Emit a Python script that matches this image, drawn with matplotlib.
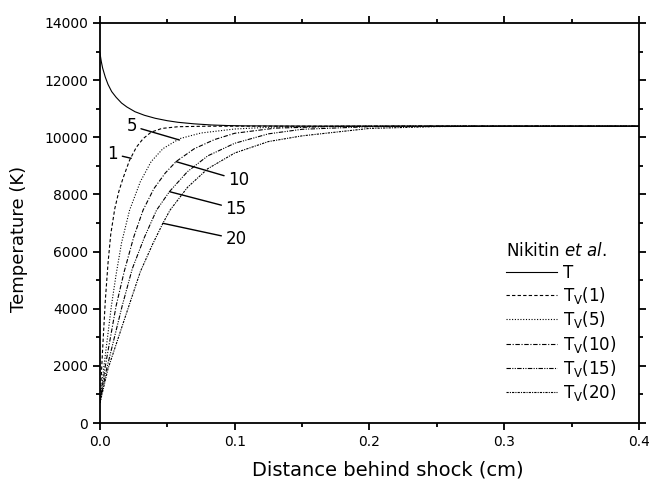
import matplotlib
matplotlib.use("Agg")
import matplotlib.pyplot as plt
from matplotlib.ticker import MultipleLocator

plt.rcParams['font.family'] = ['DejaVu Sans']
plt.rcParams['mathtext.fontset'] = 'custom'
plt.rcParams['mathtext.rm'] = 'DejaVu Sans'
plt.rcParams['mathtext.it'] = 'DejaVu Sans:italic'

# Data
x_T = [0, 0.001, 0.002, 0.004, 0.006, 0.0087, 0.012, 0.016, 0.02, 0.026, 0.033, 0.041,
       0.05, 0.058, 0.07, 0.083, 0.095, 0.107, 0.15, 0.4]
y_T = [12950, 12650, 12420, 12100, 11850, 11600, 11400, 11200, 11060, 10895, 10770, 10665,
       10580, 10524, 10470, 10430, 10410, 10400, 10392, 10390]

x_tv1 = [0, 0.002, 0.004, 0.006, 0.008, 0.011, 0.014, 0.017, 0.022, 0.027, 0.032, 0.038, 0.046, 0.058, 0.08, 0.4]
y_tv1 = [700, 2600, 4300, 5600, 6600, 7500, 8100, 8550, 9200, 9650, 9950, 10180, 10310, 10370, 10388, 10390]

x_tv5 = [0, 0.003, 0.0085, 0.012, 0.016, 0.022, 0.030, 0.038, 0.0467, 0.059, 0.075, 0.1, 0.13, 0.18, 0.4]
y_tv5 = [700, 2000, 4100, 5200, 6300, 7450, 8450, 9150, 9600, 9950, 10150, 10290, 10360, 10385, 10390]

x_tv10 = [0, 0.004, 0.012, 0.018, 0.025, 0.032, 0.040, 0.0485, 0.0565, 0.07, 0.085, 0.1, 0.13, 0.17, 0.22, 0.4]
y_tv10 = [700, 2000, 4100, 5300, 6500, 7450, 8200, 8750, 9150, 9600, 9920, 10140, 10320, 10375, 10390, 10390]

x_tv15 = [0, 0.005, 0.0165, 0.024, 0.033, 0.042, 0.0516, 0.065, 0.08, 0.1, 0.125, 0.15, 0.2, 0.25, 0.4]
y_tv15 = [700, 1900, 4100, 5400, 6500, 7450, 8100, 8800, 9350, 9790, 10120, 10280, 10370, 10388, 10390]

x_tv20 = [0, 0.006, 0.0215, 0.030, 0.039, 0.0467, 0.052, 0.065, 0.08, 0.1, 0.125, 0.15, 0.2, 0.25, 0.3, 0.4]
y_tv20 = [700, 1900, 4100, 5300, 6250, 6990, 7450, 8250, 8900, 9450, 9850, 10050, 10310, 10375, 10388, 10390]

xtick_labels = ['0.0', '0.1', '0.2', '0.3', '0.4']

fig = plt.figure(figsize=(6.49, 4.83), dpi=100)
ax = fig.add_axes([0.154, 0.1242, 0.8306, 0.8282])

lw = 0.8
ax.plot(x_T, y_T, color='black', lw=lw, linestyle='-', label='T')
ax.plot(x_tv1, y_tv1, color='black', lw=lw, linestyle=(0, (3, 2)), label=r'T$_\mathregular{V}$(1)')
ax.plot(x_tv5, y_tv5, color='black', lw=lw, linestyle=(0, (1, 1.5)), label=r'T$_\mathregular{V}$(5)')
ax.plot(x_tv10, y_tv10, color='black', lw=lw, linestyle=(0, (4, 1.5, 1, 1.5)), label=r'T$_\mathregular{V}$(10)')
ax.plot(x_tv15, y_tv15, color='black', lw=lw, linestyle=(0, (4, 1.2, 1, 1.2, 1, 1.2)), label=r'T$_\mathregular{V}$(15)')
ax.plot(x_tv20, y_tv20, color='black', lw=lw, linestyle=(0, (2, 1, 1, 1)), label=r'T$_\mathregular{V}$(20)')

# curve labels with leader lines
ann = dict(fontsize=12, ha='center', va='center',
           arrowprops=dict(arrowstyle='-', color='black', lw=1.0, shrinkA=1, shrinkB=0))
ax.annotate('5', xy=(0.059, 9905), xytext=(0.0235, 10395), **ann)
ax.annotate('1', xy=(0.0232, 9264), xytext=(0.0096, 9415), **ann)
ax.annotate('10', xy=(0.0565, 9147), xytext=(0.103, 8505), **ann)
ax.annotate('15', xy=(0.0516, 8097), xytext=(0.101, 7490), **ann)
ax.annotate('20', xy=(0.0467, 6990), xytext=(0.101, 6440), **ann)

ax.set_xlim(0, 0.4)
ax.set_ylim(0, 14000)
ax.set_xticks([0, 0.1, 0.2, 0.3, 0.4])
ax.set_xticklabels(xtick_labels)
ax.xaxis.set_minor_locator(MultipleLocator(0.05))
ax.yaxis.set_major_locator(MultipleLocator(2000))
ax.yaxis.set_minor_locator(MultipleLocator(1000))
ax.tick_params(which='both', direction='out', top=True, right=True, width=1.3, labelsize=10)
ax.tick_params(which='major', length=5)
ax.tick_params(which='minor', length=3)
for s in ax.spines.values():
    s.set_linewidth(1.3)

ax.set_xlabel('Distance behind shock (cm)', fontsize=14)
ax.xaxis.set_label_coords(0.534, -0.093)
ax.set_ylabel('Temperature (K)', fontsize=13)
ax.yaxis.set_label_coords(-0.133, 0.46)

leg = ax.legend(title=r'Nikitin $\mathit{et\ al.}$', frameon=False, fontsize=12,
                title_fontsize=12, alignment='left', handlelength=3.05,
                handletextpad=0.36, labelspacing=0.2, borderpad=0, borderaxespad=0,
                loc='upper left', bbox_to_anchor=(0.753, 0.452))

fig.savefig('out.png', dpi=100)
